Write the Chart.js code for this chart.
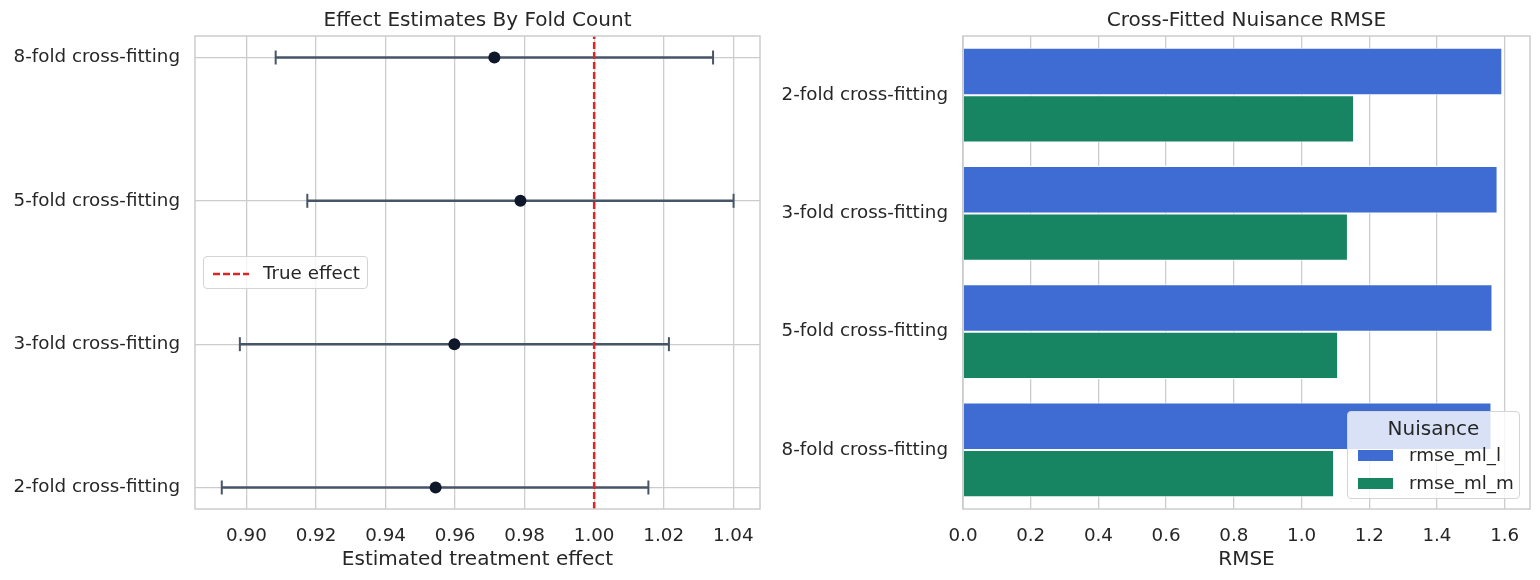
<!DOCTYPE html>
<html>
<head>
<meta charset="utf-8">
<script src="https://cdn.jsdelivr.net/npm/chart.js@4.4.1/dist/chart.umd.min.js"></script>
<style>
body { margin: 0; background: #fff; font-family: "DejaVu Sans", sans-serif; color: #262626; }
#wrap { position: relative; width: 1540px; height: 580px; }
.pane { position: absolute; top: 0; width: 770px; height: 580px; }
.legend { position: absolute; box-sizing: border-box; border: 1px solid #d4d4d4; border-radius: 4px; background: rgba(255,255,255,0.8); font-size: 18.3px; }
.legend span { position: absolute; white-space: nowrap; line-height: 22px; }
</style>
</head>
<body>
<div id="wrap">
  <div class="pane" style="left:0"><canvas id="effectChart" width="770" height="580"></canvas></div>
  <div class="pane" style="left:770px"><canvas id="rmseChart" width="770" height="580"></canvas></div>

  <div class="legend" style="left:203px; top:256px; width:165px; height:33px;">
    <svg style="position:absolute; left:8px; top:15px" width="38" height="4"><line x1="1" y1="2" x2="37" y2="2" stroke="#dc2626" stroke-width="2.5" stroke-dasharray="7,3"/></svg>
    <span style="left:59px; top:5px">True effect</span>
  </div>

  <div class="legend" style="left:1347px; top:411px; width:173px; height:88px;">
    <span style="left:0; width:171px; text-align:center; top:4px; font-size:20px; line-height:24px">Nuisance</span>
    <div style="position:absolute; left:10px; top:38px; width:35px; height:11px; background:#3e6cd2"></div>
    <span style="left:61px; top:32px">rmse_ml_l</span>
    <div style="position:absolute; left:10px; top:66px; width:35px; height:11px; background:#178462"></div>
    <span style="left:61px; top:60px">rmse_ml_m</span>
  </div>
</div>

<script>
// fold settings (bottom to top on the left panel, top to bottom on the right)
var foldLabels = ['2-fold cross-fitting', '3-fold cross-fitting', '5-fold cross-fitting', '8-fold cross-fitting'];

// effect estimates with 95% intervals
var estimates = [0.9544, 0.9598, 0.9788, 0.9713];
var ciLower = [0.8929, 0.8981, 0.9175, 0.9084];
var ciUpper = [1.0156, 1.0215, 1.0401, 1.0342];
var trueEffect = 1.0;

// nuisance rmse
var rmseMlL = [1.593, 1.579, 1.564, 1.561];
var rmseMlM = [1.155, 1.137, 1.108, 1.096];

// axis ranges
var effectMin = 0.8852, effectMax = 1.0477, effectStep = 0.02;
var rowMin = -0.15, rowMax = 3.15;
var rmseMax = 1.6748, rmseStep = 0.2;

var textColor = '#262626';
var gridColor = '#cccccc';
var font = 'DejaVu Sans';

/* frame round the plot area */
var framePlugin = {
  id: 'frame',
  afterDatasetsDraw: function (chart) {
    var ctx = chart.ctx, a = chart.chartArea;
    ctx.save();
    ctx.strokeStyle = gridColor;
    ctx.lineWidth = 1.5;
    ctx.strokeRect(a.left, a.top, a.right - a.left, a.bottom - a.top);
    ctx.restore();
  }
};

/* title centred over the plot area, like matplotlib */
var titlePlugin = {
  id: 'axTitle',
  afterDraw: function (chart, args, opts) {
    var ctx = chart.ctx, a = chart.chartArea;
    ctx.save();
    ctx.font = '20px "' + font + '"';
    ctx.fillStyle = textColor;
    ctx.textAlign = 'center';
    ctx.textBaseline = 'middle';
    ctx.fillText(opts.text, (a.left + a.right) / 2, 21);
    ctx.restore();
  }
};

// fixed size for the x axis box
function fitX(s) {
  s.height = 71;
  s.paddingLeft = 0;
  s.paddingRight = 0;
}

Chart.defaults.font.family = font;
Chart.defaults.color = textColor;

// left panel
var effectSets = [];
effectSets.push({
  label: 'Estimate',
  data: estimates.map(function (v, i) { return {x: v, y: i}; }),
  pointRadius: 6,
  pointBackgroundColor: '#0f172a',
  pointBorderWidth: 0,
  showLine: false
});
effectSets.push({
  label: 'True effect',
  data: [{x: trueEffect, y: rowMin}, {x: trueEffect, y: rowMax}],
  borderColor: '#dc2626',
  borderWidth: 2.5,
  borderDash: [7, 3],
  pointRadius: 0,
  showLine: true
});
for (var i = 0; i < estimates.length; i++) {
  effectSets.push({
    label: 'CI ' + foldLabels[i],
    data: [{x: ciLower[i], y: i}, {x: ciUpper[i], y: i}],
    borderColor: '#475569',
    borderWidth: 2.5,
    showLine: true,
    pointStyle: 'line',
    pointRotation: 90,
    pointRadius: 7,
    pointBorderColor: '#475569',
    pointBorderWidth: 2
  });
}

new Chart(document.getElementById('effectChart'), {
  type: 'scatter',
  data: { datasets: effectSets },
  plugins: [framePlugin, titlePlugin],
  options: {
    responsive: false,
    animation: false,
    devicePixelRatio: 1,
    layout: { padding: { top: 36, right: 10, left: 0, bottom: 0 } },
    plugins: {
      legend: { display: false },
      tooltip: { enabled: false },
      axTitle: { text: 'Effect Estimates By Fold Count' }
    },
    scales: {
      x: {
        type: 'linear',
        min: effectMin, max: effectMax,
        afterFit: fitX,
        grid: { color: gridColor, lineWidth: 1.3, drawTicks: false },
        border: { display: false },
        ticks: {
          stepSize: effectStep, includeBounds: false, padding: 16,
          font: { size: 18.3 }, color: textColor,
          callback: function (v) { return v.toFixed(2); }
        },
        title: { display: true, text: 'Estimated treatment effect', font: { size: 20 }, color: textColor, padding: { top: 0, bottom: 8 } }
      },
      y: {
        type: 'linear',
        min: rowMin, max: rowMax,
        afterFit: function (s) { s.width = 195; },
        grid: { color: gridColor, lineWidth: 1.3, drawTicks: false },
        border: { display: false },
        ticks: {
          stepSize: 1, includeBounds: false, padding: 15,
          font: { size: 18.3 }, color: textColor,
          callback: function (v) { return Number.isInteger(v) ? foldLabels[v] : ''; }
        }
      }
    }
  }
});

// right panel
new Chart(document.getElementById('rmseChart'), {
  type: 'bar',
  data: {
    labels: foldLabels,
    datasets: [
      { label: 'rmse_ml_l', data: rmseMlL, backgroundColor: '#3e6cd2', borderColor: '#ffffff', borderWidth: 1 },
      { label: 'rmse_ml_m', data: rmseMlM, backgroundColor: '#178462', borderColor: '#ffffff', borderWidth: 1 }
    ]
  },
  plugins: [framePlugin, titlePlugin],
  options: {
    indexAxis: 'y',
    responsive: false,
    animation: false,
    devicePixelRatio: 1,
    barPercentage: 1.0,
    categoryPercentage: 0.8,
    layout: { padding: { top: 36, right: 10, left: 0, bottom: 0 } },
    plugins: {
      legend: { display: false },
      tooltip: { enabled: false },
      axTitle: { text: 'Cross-Fitted Nuisance RMSE' }
    },
    scales: {
      x: {
        type: 'linear',
        min: 0, max: rmseMax,
        afterFit: fitX,
        grid: { color: gridColor, lineWidth: 1.3, drawTicks: false },
        border: { display: false },
        ticks: {
          stepSize: rmseStep, includeBounds: false, padding: 16,
          font: { size: 18.3 }, color: textColor,
          callback: function (v) { return v.toFixed(1); }
        },
        title: { display: true, text: 'RMSE', font: { size: 20 }, color: textColor, padding: { top: 0, bottom: 8 } }
      },
      y: {
        afterFit: function (s) { s.width = 193; },
        grid: { display: false, drawTicks: false },
        border: { display: false },
        ticks: { padding: 15, font: { size: 18.3 }, color: textColor }
      }
    }
  }
});
</script>
</body>
</html>
